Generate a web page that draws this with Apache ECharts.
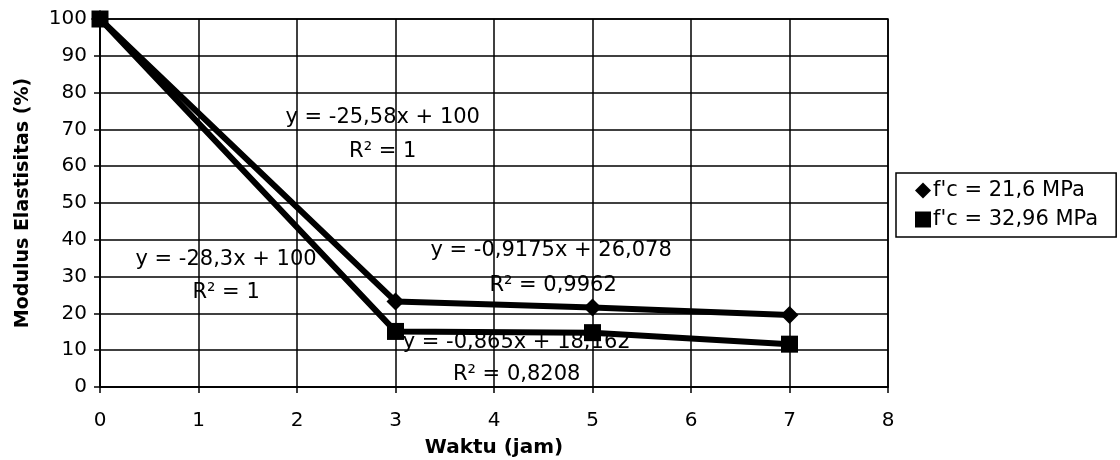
<!DOCTYPE html>
<html>
<head>
<meta charset="utf-8">
<title>Modulus Elastisitas</title>
<script src="https://cdn.jsdelivr.net/npm/echarts@6/dist/echarts.min.js"></script>
<style>
  html, body { margin: 0; padding: 0; background: #fff; }
  #chart { width: 1120px; height: 460px; }
</style>
</head>
<body>
<div id="chart"></div>
<script>
// Waktu pemanasan (jam)
var waktu = [0, 3, 5, 7];

// Modulus elastisitas sisa (%) untuk dua mutu beton
var seriesNames = ["f'c = 21,6 MPa", "f'c = 32,96 MPa"];
var modulus216 = [100, 23.26, 21.62, 19.59];
var modulus3296 = [100, 15.1, 14.77, 11.64];

// Persamaan garis tren dan tempat labelnya (koordinat data)
var trendTexts = [
  'y = -25,58x + 100', 'R\u00B2 = 1',
  'y = -28,3x + 100', 'R\u00B2 = 1',
  'y = -0,9175x + 26,078', 'R\u00B2 = 0,9962',
  'y = -0,865x + 18,162', 'R\u00B2 = 0,8208'
];
var trendAnchors = [
  [2.87, 73.1], [2.87, 63.9],
  [1.28, 34.5], [1.28, 25.8],
  [4.58, 37.2], [4.60, 27.7],
  [4.23, 12.0], [4.23, 3.3]
];

var yTicks = { min: 0, max: 100, interval: 10 };
var xTicks = { min: 0, max: 8, interval: 1 };

var FONT = 'DejaVu Sans';

function pairs(xs, ys) {
  return xs.map(function (x, i) { return [x, ys[i]]; });
}

var chart = echarts.init(document.getElementById('chart'), null, { renderer: 'canvas' });

chart.setOption({
  animation: false,
  backgroundColor: '#ffffff',
  textStyle: { fontFamily: FONT, color: '#000' },
  grid: {
    left: 100, right: 232, top: 19, bottom: 73,
    outerBoundsMode: 'none',
    containLabel: false,
    show: true, borderColor: '#000', borderWidth: 1.5, backgroundColor: '#fff'
  },
  legend: {
    orient: 'vertical',
    left: 896, top: 173,
    padding: [7, 18, 7, 19],
    itemGap: 8,
    itemWidth: 16, itemHeight: 16,
    borderColor: '#000', borderWidth: 1.5,
    textStyle: { fontFamily: FONT, fontSize: 21, color: '#000', padding: [0, 0, 0, -3] },
    data: [
      { name: seriesNames[0], icon: 'diamond' },
      { name: seriesNames[1], icon: 'rect' }
    ]
  },
  xAxis: {
    type: 'value',
    min: xTicks.min, max: xTicks.max, interval: xTicks.interval,
    name: 'Waktu (jam)',
    nameLocation: 'middle',
    nameGap: 51,
    nameTextStyle: { fontFamily: FONT, fontSize: 20, fontWeight: 'bold', color: '#000' },
    axisLine: { show: true, onZero: false, lineStyle: { color: '#000', width: 1.5 } },
    axisTick: { show: true, length: 6, lineStyle: { color: '#000', width: 1.5 } },
    axisLabel: { fontFamily: FONT, fontSize: 20, color: '#000', margin: 24 },
    splitLine: { show: true, lineStyle: { color: '#000', width: 1.5 } }
  },
  yAxis: {
    type: 'value',
    min: yTicks.min, max: yTicks.max, interval: yTicks.interval,
    name: 'Modulus Elastisitas (%)',
    nameLocation: 'middle',
    nameGap: 67,
    nameTextStyle: { fontFamily: FONT, fontSize: 19, fontWeight: 'bold', color: '#000' },
    axisLine: { show: true, lineStyle: { color: '#000', width: 1.5 } },
    axisTick: { show: true, length: 6, lineStyle: { color: '#000', width: 1.5 } },
    axisLabel: { fontFamily: FONT, fontSize: 20, color: '#000', margin: 13 },
    splitLine: { show: true, lineStyle: { color: '#000', width: 1.5 } }
  },
  series: [
    {
      name: 'trend-labels',
      type: 'scatter',
      z: 1,
      silent: true,
      symbolSize: 0,
      itemStyle: { opacity: 1 },
      data: trendAnchors,
      label: {
        show: true,
        position: 'inside',
        fontFamily: FONT,
        fontSize: 21,
        color: '#000',
        formatter: function (p) { return trendTexts[p.dataIndex]; }
      }
    },
    {
      name: seriesNames[0],
      type: 'line',
      z: 3,
      data: pairs(waktu, modulus216),
      symbol: 'diamond',
      symbolSize: 18,
      itemStyle: { color: '#000' },
      lineStyle: { color: '#000', width: 6 }
    },
    {
      name: seriesNames[1],
      type: 'line',
      z: 3,
      data: pairs(waktu, modulus3296),
      symbol: 'rect',
      symbolSize: 17,
      itemStyle: { color: '#000' },
      lineStyle: { color: '#000', width: 6 }
    }
  ]
});
</script>
</body>
</html>
